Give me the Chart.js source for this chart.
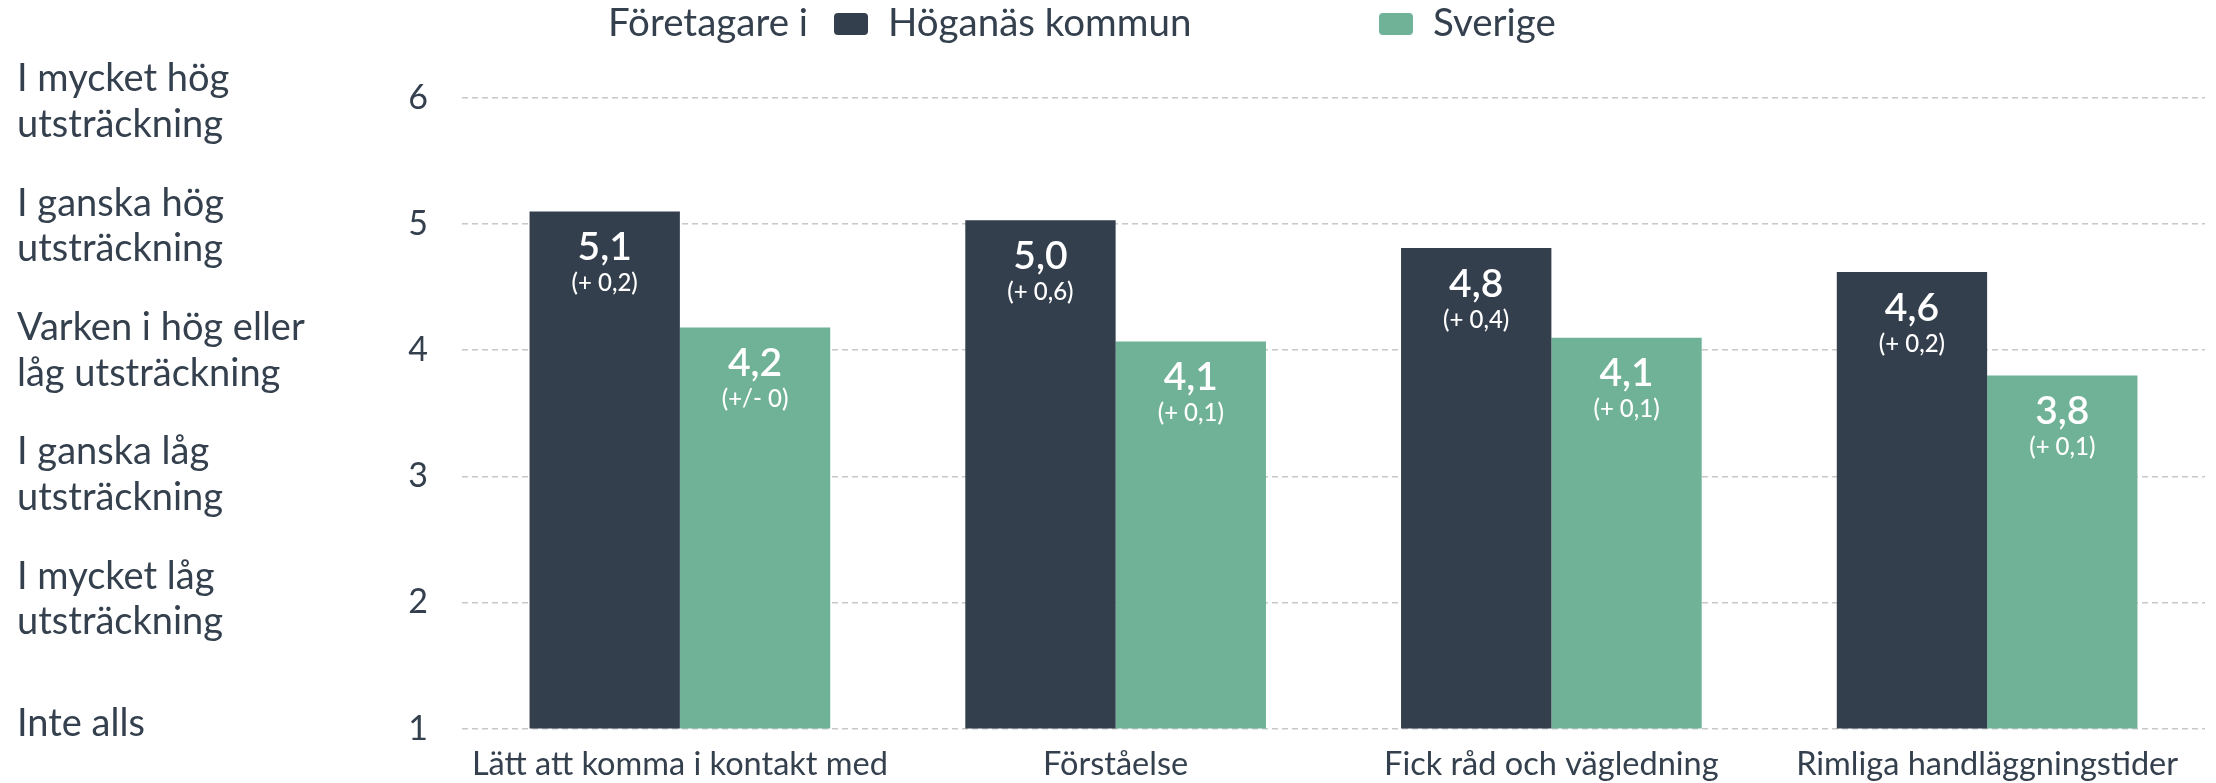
<!DOCTYPE html>
<html>
<head>
<meta charset="utf-8">
<script src="https://cdn.jsdelivr.net/npm/chart.js@4/dist/chart.umd.min.js"></script>
<style>
html,body{margin:0;padding:0;background:#ffffff;}
#wrap{position:relative;width:2216px;height:783px;}
</style>
</head>
<body>
<div id="wrap"><canvas id="c"></canvas></div>
<script>
// ---- data ----
const categories = ['Lätt att komma i kontakt med', 'Förståelse', 'Fick råd och vägledning', 'Rimliga handläggningstider'];
const seriesNames = ['Höganäs kommun', 'Sverige'];
const hoganasValues = [5.10, 5.03, 4.81, 4.62];
const sverigeValues = [4.18, 4.07, 4.10, 3.80];
const hoganasValueLabels = ['5,1', '5,0', '4,8', '4,6'];
const hoganasChangeLabels = ['(+ 0,2)', '(+ 0,6)', '(+ 0,4)', '(+ 0,2)'];
const sverigeValueLabels = ['4,2', '4,1', '4,1', '3,8'];
const sverigeChangeLabels = ['(+/- 0)', '(+ 0,1)', '(+ 0,1)', '(+ 0,1)'];
const scaleTickValues = [1, 2, 3, 4, 5, 6];
const scaleTextLabels = [
  ['Inte alls'],
  ['I mycket låg', 'utsträckning'],
  ['I ganska låg', 'utsträckning'],
  ['Varken i hög eller', 'låg utsträckning'],
  ['I ganska hög', 'utsträckning'],
  ['I mycket hög', 'utsträckning']
];
const legendPrefix = 'Företagare i';

// ---- style ----
const FONT = 'Lato, "Noto Sans", sans-serif';
const TEXT = '#34404d';
const DARK = '#333f4c';
const GREEN = '#6fb297';

const canvas = document.getElementById('c');
canvas.width = 2216; canvas.height = 783;
canvas.style.width = '2216px'; canvas.style.height = '783px';

const legendPlugin = {
  id: 'customLegend',
  afterDraw(chart) {
    const ctx = chart.ctx;
    ctx.save();
    ctx.font = '38.5px ' + FONT;
    ctx.fillStyle = TEXT;
    ctx.textBaseline = 'middle';
    ctx.textAlign = 'left';
    const cy = 24;
    ctx.fillText(legendPrefix, 608, cy);
    const items = [{box: 834, text: 888}, {box: 1379, text: 1433}];
    chart.data.datasets.forEach((ds, i) => {
      const it = items[i];
      ctx.fillStyle = ds.backgroundColor;
      ctx.beginPath();
      if (ctx.roundRect) ctx.roundRect(it.box, cy - 11, 34, 22, 4); else ctx.rect(it.box, cy - 11, 34, 22);
      ctx.fill();
      ctx.fillStyle = TEXT;
      ctx.fillText(ds.label, it.text, cy);
    });
    ctx.restore();
  }
};

const barLabelPlugin = {
  id: 'barLabels',
  afterDatasetsDraw(chart) {
    const ctx = chart.ctx;
    const valueSets = [hoganasValueLabels, sverigeValueLabels];
    const changeSets = [hoganasChangeLabels, sverigeChangeLabels];
    ctx.save();
    ctx.fillStyle = '#ffffff';
    ctx.textAlign = 'center';
    ctx.textBaseline = 'middle';
    chart.data.datasets.forEach((ds, di) => {
      const meta = chart.getDatasetMeta(di);
      meta.data.forEach((bar, i) => {
        ctx.font = '600 39px ' + FONT;
        ctx.fillText(valueSets[di][i], bar.x, bar.y + 36);
        ctx.font = '500 24px ' + FONT;
        ctx.fillText(changeSets[di][i], bar.x, bar.y + 72);
      });
    });
    ctx.restore();
  }
};

new Chart(canvas, {
  type: 'bar',
  data: {
    labels: categories,
    datasets: [
      {label: seriesNames[0], data: hoganasValues, backgroundColor: DARK, barPercentage: 1.0, categoryPercentage: 0.69},
      {label: seriesNames[1], data: sverigeValues, backgroundColor: GREEN, barPercentage: 1.0, categoryPercentage: 0.69}
    ]
  },
  options: {
    responsive: false,
    animation: false,
    devicePixelRatio: 1,
    layout: {padding: {left: 17, right: 11, top: 98, bottom: 0}},
    plugins: {legend: {display: false}, tooltip: {enabled: false}},
    scales: {
      x: {
        grid: {display: false},
        border: {display: false},
        ticks: {
          color: TEXT, font: {family: FONT, size: 32.5, lineHeight: 1.0},
          padding: 12, maxRotation: 0, autoSkip: false
        },
        afterFit(s) { s.height = 54; }
      },
      y: {
        position: 'left', weight: 0,
        min: 1, max: 6,
        afterBuildTicks(s) { s.ticks = scaleTickValues.map(v => ({value: v})); },
        ticks: {color: TEXT, font: {family: FONT, size: 34}, padding: 34},
        grid: {color: '#c8c8c8', lineWidth: 1.5, drawTicks: false},
        border: {display: false, dash: [6, 4]},
        afterFit(s) { s.width = 65; }
      },
      yText: {
        type: 'linear', position: 'left', weight: 1,
        min: 0.96, max: 6.03,
        afterBuildTicks(s) { s.ticks = scaleTickValues.map(v => ({value: v})); },
        ticks: {
          color: TEXT, font: {family: FONT, size: 38, lineHeight: 1.2},
          crossAlign: 'far', padding: 0,
          callback(v) { return scaleTextLabels[scaleTickValues.indexOf(v)]; }
        },
        grid: {display: false},
        border: {display: false},
        afterFit(s) { s.width = 380; }
      }
    }
  },
  plugins: [legendPlugin, barLabelPlugin]
});
</script>
</body>
</html>
